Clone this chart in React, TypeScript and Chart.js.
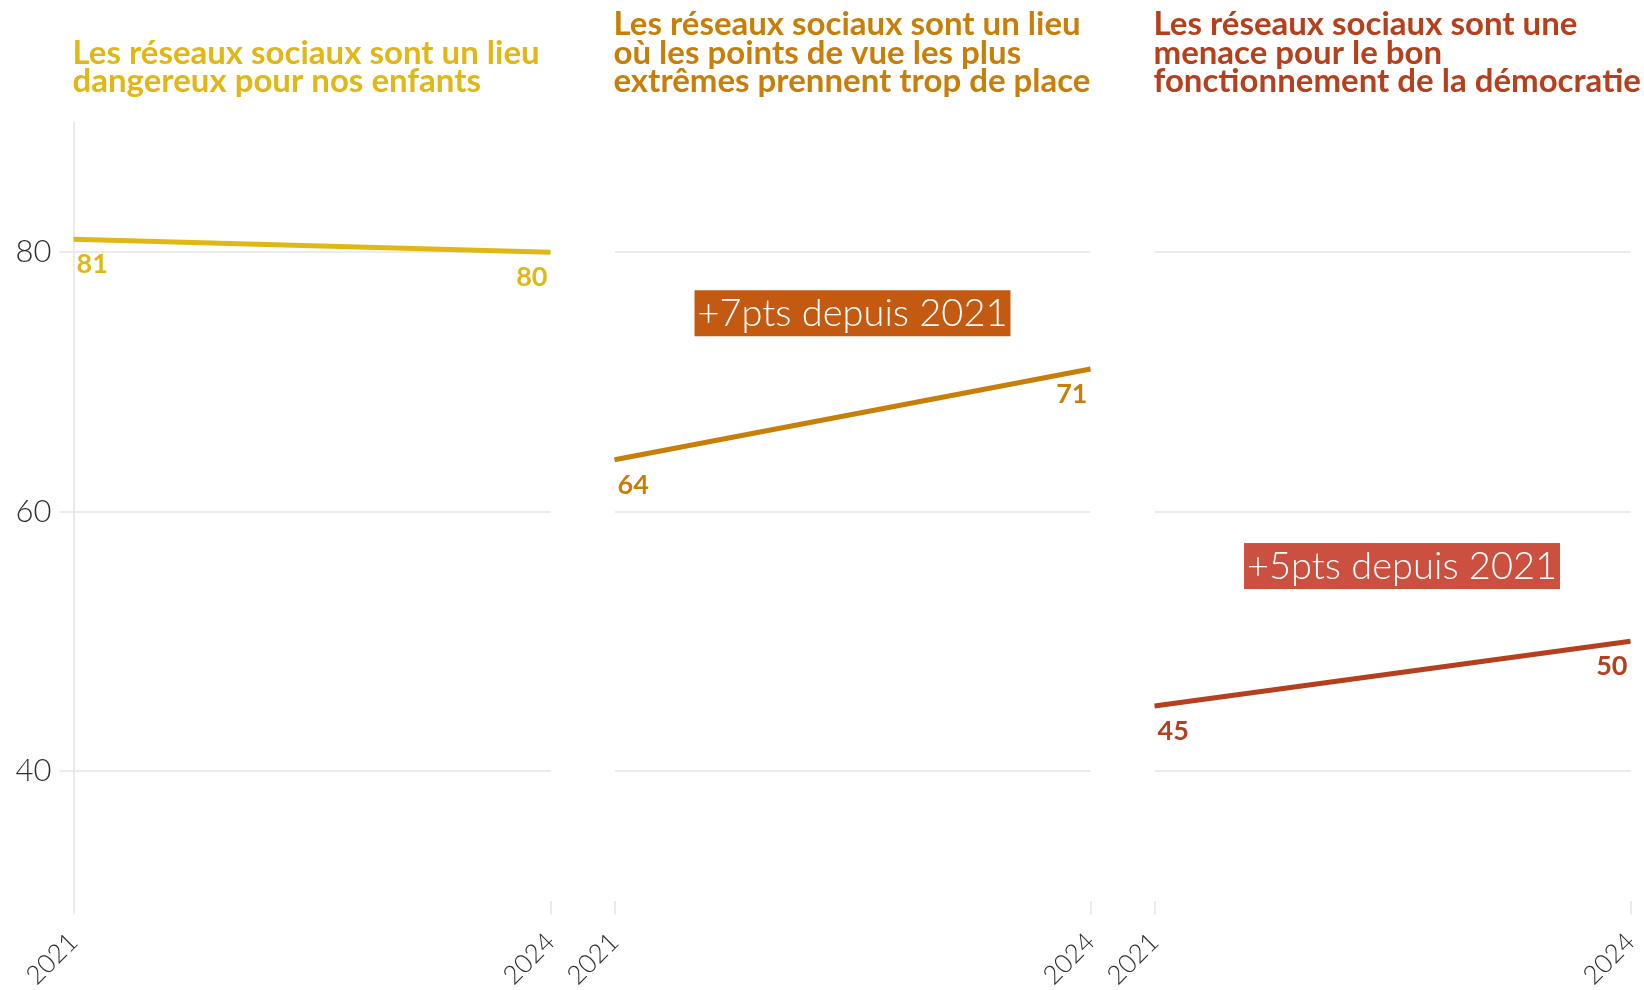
import React, { useEffect, useRef } from 'react';
import { Chart, registerables } from 'chart.js';

Chart.register(...registerables);

// ---- data ----
const years = ['2021', '2024'];
const seriesChildren = [81, 80];
const seriesExtremes = [64, 71];
const seriesDemocracy = [45, 50];
const panelSeries = [seriesChildren, seriesExtremes, seriesDemocracy];

const titleChildren = ['Les réseaux sociaux sont un lieu', 'dangereux pour nos enfants'];
const titleExtremes = ['Les réseaux sociaux sont un lieu', 'où les points de vue les plus', 'extrêmes prennent trop de place'];
const titleDemocracy = ['Les réseaux sociaux sont une', 'menace pour le bon', 'fonctionnement de la démocratie'];
const panelTitles = [titleChildren, titleExtremes, titleDemocracy];

const annotationTexts = [null, '+7pts depuis 2021', '+5pts depuis 2021'];
const annotationX = [null, 0.5, 0.52];
const annotationY = [null, 75.3, 55.8];

const yTickValues = [40, 60, 80];
const yMin = 30;
const yMax = 90;

// ---- styles ----
const lineColors = ['#e1b716', '#c87f0a', '#b5401d'];
const annotationColors = [null, '#c45a12', '#cb5040'];
const GRID = '#ebebeb';
const TEXT = '#2e2e2e';

const CANVAS_H = 990;
const AREA_TOP = 122.7;
const AREA_BOTTOM = 900.5;
const panelCanvasLeft = [0, 540, 1080];
const panelCanvasWidth = [580, 580, 564];
const panelAreaLeft = [73.5, 74.5, 74.5];
const panelPadRight = [29.5, 29.5, 13.5];
const TITLE_LAST_BASELINE = 92;
const TITLE_LINE_H = 28.5;

function Panel({ idx }: { idx: number }) {
  const ref = useRef<HTMLCanvasElement | null>(null);
  useEffect(() => {
    if (!ref.current) return;
    const color = lineColors[idx];
    const values = panelSeries[idx];
    const decor = {
      id: 'panelDecor' + idx,
      afterDatasetsDraw(chart: any) {
        const ctx = chart.ctx;
        const area = chart.chartArea;
        const meta = chart.getDatasetMeta(0);
        ctx.save();
        // value labels
        ctx.font = '700 27px Lato';
        ctx.fillStyle = color;
        ctx.textBaseline = 'alphabetic';
        meta.data.forEach((pt: any, i: number) => {
          const last = i === meta.data.length - 1;
          ctx.textAlign = last ? 'right' : 'left';
          ctx.fillText(String(values[i]), pt.x + (last ? -3 : 3), pt.y + 34);
        });
        // annotation
        const text = annotationTexts[idx];
        if (text) {
          const cx = chart.scales.x.getPixelForValue(annotationX[idx]);
          const cy = chart.scales.y.getPixelForValue(annotationY[idx]);
          ctx.font = '300 38px Lato';
          const w = ctx.measureText(text).width + 6;
          ctx.fillStyle = annotationColors[idx];
          ctx.fillRect(cx - w / 2, cy - 23, w, 46);
          ctx.fillStyle = '#ffffff';
          ctx.textAlign = 'center';
          ctx.fillText(text, cx, cy + 12.5);
        }
        // title
        const lines = panelTitles[idx];
        ctx.font = '700 33px Lato';
        ctx.fillStyle = color;
        ctx.textAlign = 'left';
        lines.forEach((l: string, i: number) => {
          ctx.fillText(l, area.left - 1, TITLE_LAST_BASELINE - (lines.length - 1 - i) * TITLE_LINE_H);
        });
        ctx.restore();
      },
    };
    const chart = new Chart(ref.current, {
      type: 'line',
      data: {
        labels: years,
        datasets: [
          {
            data: values,
            borderColor: color,
            borderWidth: 5,
            pointRadius: 0,
            tension: 0,
            fill: false,
          },
        ],
      },
      options: {
        responsive: false,
        animation: false,
        events: [],
        layout: { padding: { top: AREA_TOP, bottom: 0, left: 0, right: panelPadRight[idx] } },
        plugins: {
          legend: { display: false },
          tooltip: { enabled: false },
          title: { display: false },
        },
        scales: {
          x: {
            type: 'category',
            offset: false,
            grid: { drawOnChartArea: false, drawTicks: true, tickLength: 14, color: GRID, lineWidth: 2 },
            border: { display: false },
            ticks: {
              minRotation: 45,
              maxRotation: 45,
              autoSkip: false,
              padding: 12,
              color: TEXT,
              font: { family: 'Lato', size: 26, weight: '300' },
            },
            afterFit: (s: any) => {
              s.height = CANVAS_H - AREA_BOTTOM;
              s.paddingLeft = 0;
              s.paddingRight = 0;
            },
          },
          y: {
            min: yMin,
            max: yMax,
            afterBuildTicks: (s: any) => {
              s.ticks = yTickValues.map((v) => ({ value: v }));
            },
            grid: { color: GRID, lineWidth: 2, drawTicks: idx === 0, tickLength: 14 },
            border: { display: idx === 0, color: GRID, width: 2 },
            ticks: {
              display: idx === 0,
              padding: 8,
              color: TEXT,
              font: { family: 'Lato', size: 31, weight: '300' },
            },
            afterFit: (s: any) => {
              s.width = panelAreaLeft[idx];
              s.paddingTop = 0;
              s.paddingBottom = 0;
            },
          },
        },
      },
      plugins: [decor],
    } as any);
    return () => chart.destroy();
  }, [idx]);
  return (
    <canvas
      ref={ref}
      width={panelCanvasWidth[idx]}
      height={CANVAS_H}
      style={{ position: 'absolute', left: panelCanvasLeft[idx], top: 0 }}
    />
  );
}

export default function App() {
  return (
    <div
      style={{
        position: 'absolute',
        left: 0,
        top: 0,
        width: 1644,
        height: 990,
        overflow: 'hidden',
        background: '#ffffff',
      }}
    >
      <Panel idx={0} />
      <Panel idx={1} />
      <Panel idx={2} />
    </div>
  );
}
